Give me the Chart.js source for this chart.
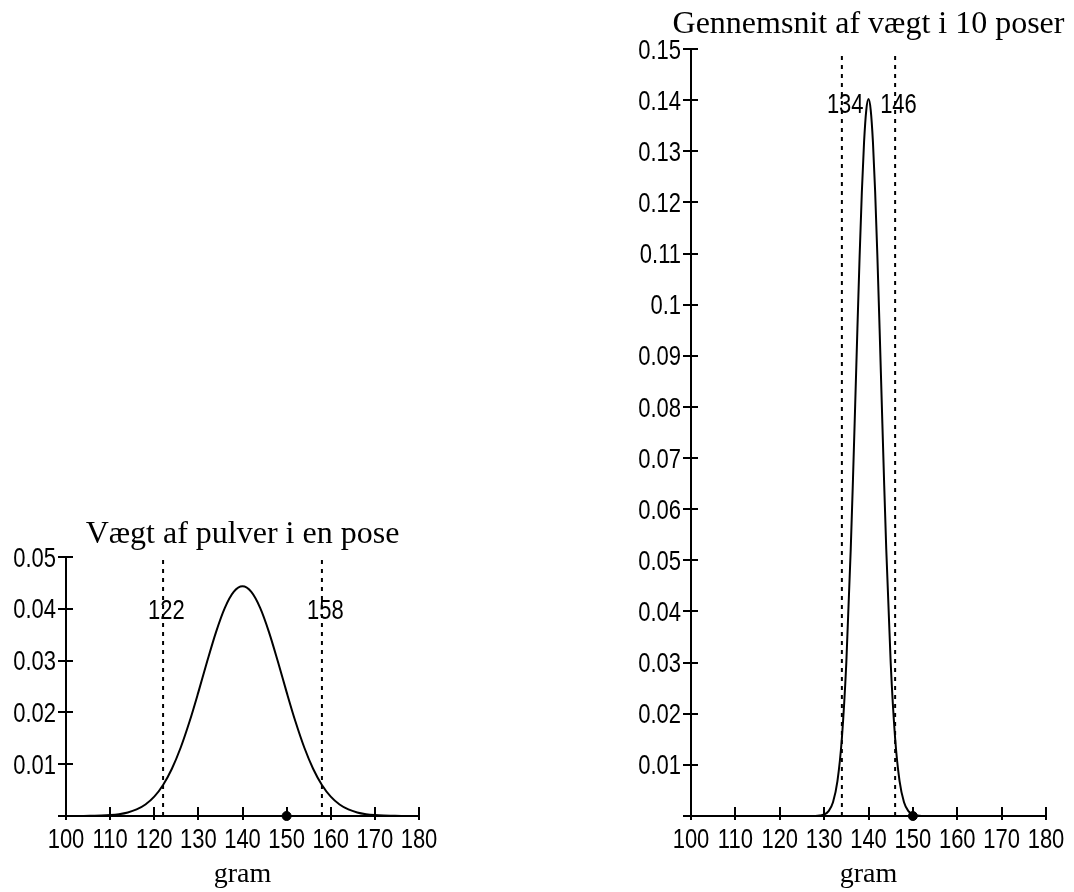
<!DOCTYPE html>
<html lang="da">
<head>
<meta charset="UTF-8">
<title>Vægt af pulver</title>
<script src="https://cdn.jsdelivr.net/npm/chart.js"></script>
<style>
    body { margin: 0; background: #fff; }
    .boks { position: absolute; }
    #venstre { left: 0; top: 490px; width: 450px; height: 402px; }
    #hoejre { left: 598px; top: 0; width: 476px; height: 892px; }
</style>
</head>
<body>
<div class="boks" id="venstre"><canvas id="enPose"></canvas></div>
<div class="boks" id="hoejre"><canvas id="tiPoser"></canvas></div>

<script>
// vægt af en pose (gram) og tæthed, aflæst af kurven
const gramEn = [100, 102, 104, 106, 108, 110, 112, 114, 116, 118, 120, 122, 124, 126, 128, 130, 132, 134, 136, 138, 140,
    142, 144, 146, 148, 150, 152, 154, 156, 158, 160, 162, 164, 166, 168, 170, 172, 174, 176, 178, 180];
const taethedEn = [0, 0.00001, 0.00001, 0.00004, 0.00008, 0.00017, 0.00035, 0.00068, 0.00127, 0.00223, 0.00375, 0.006,
    0.00913, 0.01322, 0.01823, 0.02391, 0.02986, 0.0355, 0.04017, 0.04325, 0.04433,
    0.04325, 0.04017, 0.0355, 0.02986, 0.02391, 0.01823, 0.01322, 0.00913, 0.006, 0.00375, 0.00223, 0.00127,
    0.00068, 0.00035, 0.00017, 0.00008, 0.00004, 0.00001, 0.00001, 0];

// gennemsnit af 10 poser
const gramTi = [100, 120, 126, 128, 129, 130, 131, 132, 133, 134, 135, 136, 136.5, 137, 137.5, 138, 138.5, 139, 139.5, 140,
    140.5, 141, 141.5, 142, 142.5, 143, 143.5, 144, 145, 146, 147, 148, 149, 150, 151, 152, 154, 160, 180];
const taethedTi = [0, 0, 0.00001, 0.00002, 0.00008, 0.00029, 0.00095, 0.0027, 0.00681, 0.0152, 0.02996, 0.05221, 0.0658,
    0.08045, 0.09532, 0.10952, 0.12202, 0.13181, 0.13806, 0.1402,
    0.13806, 0.13181, 0.12202, 0.10952, 0.09532, 0.08045, 0.0658, 0.05221, 0.02996, 0.0152, 0.00681, 0.0027,
    0.00095, 0.00029, 0.00008, 0.00002, 0.00001, 0, 0];

const graenserEn = [122, 158];
const graenserTi = [134, 146];
const maerkeEn = 150;
const maerkeTi = 150;

const sans = "'Liberation Sans', Arial, sans-serif";
const serif = "'Liberation Serif', 'Times New Roman', serif";

// tekst tegnet med vandret skalering (smal skrift)
function skaleretTekst(ctx, tekst, x, y, align, sx) {
    ctx.save();
    ctx.translate(x, y);
    ctx.scale(sx, 1);
    ctx.textAlign = align;
    ctx.fillText(tekst, 0, 0);
    ctx.restore();
}

function talTekst(v) {
    return String(+v.toFixed(2));
}

// tegner akse-stregerne indenfor, tal på akserne, titel og tal ved de stiplede linjer
const akser = {
    id: 'akser',
    afterDraw(chart, args, opts) {
        const ctx = chart.ctx;
        const xs = chart.scales.x, ys = chart.scales.y;
        const a = chart.chartArea;
        ctx.save();
        ctx.strokeStyle = '#000';
        ctx.lineWidth = 2;
        ctx.beginPath();
        xs.ticks.forEach(t => {
            const px = Math.round(xs.getPixelForValue(t.value));
            ctx.moveTo(px, a.bottom);
            ctx.lineTo(px, a.bottom - 9);
        });
        ys.ticks.forEach(t => {
            if (t.value === 0) return;
            const py = Math.round(ys.getPixelForValue(t.value));
            ctx.moveTo(a.left, py);
            ctx.lineTo(a.left + 7, py);
        });
        ctx.stroke();

        ctx.fillStyle = '#000';
        ctx.font = '27.5px ' + sans;
        ctx.textBaseline = 'middle';
        xs.ticks.forEach(t => {
            skaleretTekst(ctx, talTekst(t.value), xs.getPixelForValue(t.value), a.bottom + 24, 'center', 0.8);
        });
        ys.ticks.forEach(t => {
            if (t.value === 0) return;
            skaleretTekst(ctx, talTekst(t.value), a.left - 10, ys.getPixelForValue(t.value) + 2, 'right', 0.8);
        });
        opts.graenser.forEach(g => {
            skaleretTekst(ctx, String(g), xs.getPixelForValue(g) - 15, ys.getPixelForValue(opts.hoejde), 'left', 0.8);
        });

        ctx.font = '32px ' + serif;
        ctx.textBaseline = 'alphabetic';
        ctx.textAlign = 'center';
        ctx.fillText(opts.titel, (a.left + a.right) / 2, a.top - opts.titelAfstand);
        ctx.restore();
    }
};

function lavGraf(id, gram, taethed, graenser, maerke, yMax, top, titel, titelAfstand, yBredde, padding, tekstHoejde) {
    const datasets = [{
        data: gram.map((g, i) => ({x: g, y: taethed[i]})),
        borderColor: '#000',
        borderWidth: 2,
        pointRadius: 0,
        cubicInterpolationMode: 'monotone'
    }];
    graenser.forEach(g => datasets.push({
        data: [{x: g, y: 0}, {x: g, y: top}],
        borderColor: '#000',
        borderWidth: 2,
        borderDash: [4, 5],
        pointRadius: 0
    }));
    datasets.push({
        data: [{x: maerke, y: 0}],
        showLine: false,
        clip: false,
        pointRadius: 4.5,
        pointBackgroundColor: '#000',
        pointBorderColor: '#000'
    });

    new Chart(document.getElementById(id), {
        type: 'line',
        data: {datasets: datasets},
        options: {
            responsive: true,
            maintainAspectRatio: false,
            animation: false,
            layout: {padding: padding},
            plugins: {
                legend: {display: false},
                tooltip: {enabled: false},
                akser: {graenser: graenser, hoejde: tekstHoejde, titel: titel, titelAfstand: titelAfstand}
            },
            scales: {
                x: {
                    type: 'linear',
                    min: 100,
                    max: 180,
                    afterFit: s => { s.height = 76; },
                    border: {color: '#000', width: 2},
                    grid: {drawOnChartArea: false, drawTicks: true, tickLength: 4, color: '#000', lineWidth: 2},
                    ticks: {stepSize: 10, display: false},
                    title: {
                        display: true,
                        text: 'gram',
                        color: '#000',
                        font: {family: serif, size: 28},
                        padding: {top: 0, bottom: 1}
                    }
                },
                y: {
                    min: 0,
                    max: yMax,
                    afterFit: s => { s.width = yBredde; },
                    border: {color: '#000', width: 2},
                    grid: {drawOnChartArea: false, drawTicks: true, tickLength: 8, color: '#000', lineWidth: 2},
                    ticks: {stepSize: 0.01, display: false}
                }
            }
        },
        plugins: [akser]
    });
}

lavGraf('enPose', gramEn, taethedEn, graenserEn, maerkeEn, 0.05, 0.05,
    'Vægt af pulver i en pose', 14, 66, {left: 0, right: 31, top: 67, bottom: 0}, 0.0395);
lavGraf('tiPoser', gramTi, taethedTi, graenserTi, maerkeTi, 0.15, 0.149,
    'Gennemsnit af vægt i 10 poser', 16, 93, {left: 0, right: 28, top: 49, bottom: 0}, 0.139);
</script>
</body>
</html>
